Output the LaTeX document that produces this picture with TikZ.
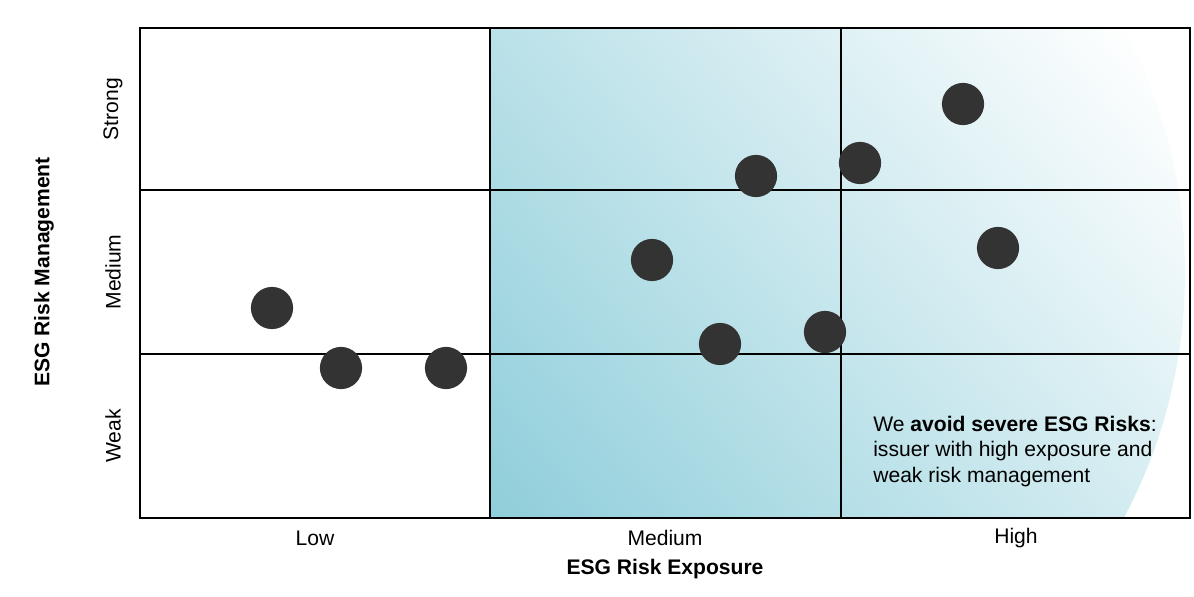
\documentclass[tikz,border=0pt]{standalone}
\usepackage{fontspec}
\setmainfont{Liberation Sans}
\usetikzlibrary{shadings}
\definecolor{teal1}{HTML}{6FC0D0}
\definecolor{dotgray}{HTML}{333333}
\tikzset{
	dot/.style={circle, fill=dotgray, minimum size=30, inner sep=0},
	lab/.style={font=\fontsize{15}{17}\selectfont},
	title/.style={font=\fontsize{15}{17}\selectfont\bfseries}
	}
\begin{document}
\begin{tikzpicture}[x=0.025cm, y=-0.025cm]
	\useasboundingbox (0,0) rectangle (1194,597);

	% background shading, diagonal from upper left to lower right
	\begin{scope}
		\clip (490,28) rectangle (1190,518);
		\shade[shading=axis, left color=white, right color=teal1, shading angle=-50]
			(665,273) circle (520);
		\shade[left color=white, right color=white!0, opacity=0] (490,28) rectangle (491,29);
	\end{scope}

	% grid
	\draw[thick] (140,28) rectangle (1190,518);
	\draw[thick] (490,28) -- (490,518);
	\draw[thick] (841,28) -- (841,518);
	\draw[thick] (140,190) -- (1190,190);
	\draw[thick] (140,354) -- (1190,354);

	% issuers
	\foreach \px/\py [count=\i] in {272/308, 341/368, 446/368, 652/260, 720/344, 756/176, 825/332, 860/163, 963/104, 998/248}
		\node[dot] (d\i) at (\px,\py) {};

	% axis labels
	\node[lab] (low) at (315,538) {Low};
	\node[lab] (mid) at (665,538) {Medium};
	\node[lab] (high) at (1016,538) {High};
	\node[title] (xt) at (665,569) {ESG Risk Exposure};
	\node[lab, rotate=90] (strong) at (113,109) {Strong};
	\node[lab, rotate=90] (medium) at (113,272) {Medium};
	\node[lab, rotate=90] (weak) at (113,436) {Weak};
	\node[title, rotate=90] (yt) at (44,272) {ESG Risk Management};

	% annotation
	\node[lab, anchor=north west, align=left, inner sep=0] (note) at (873,416)
		{We \textbf{avoid severe ESG Risks}:\\[1pt] issuer with high exposure and\\[1pt] weak risk management};
\end{tikzpicture}
\end{document}
